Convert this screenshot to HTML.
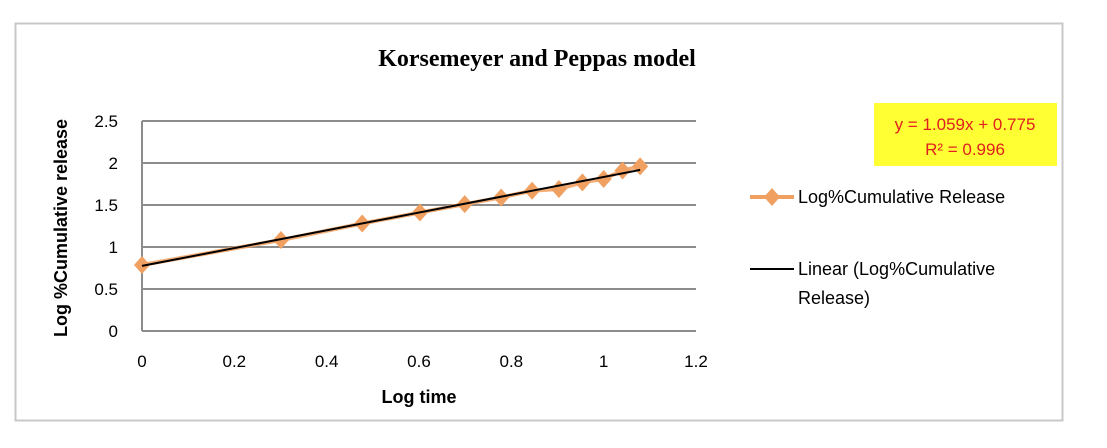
<!DOCTYPE html>
<html><head><meta charset="utf-8"><style>
html,body{margin:0;padding:0;background:#fff;}
svg{display:block;font-family:"Liberation Sans",sans-serif;}
</style></head><body>
<svg id="chart" width="1107" height="448" viewBox="0 0 1107 448">
<rect x="15.5" y="23.5" width="1047" height="397" fill="#fff" stroke="#c8c8c8" stroke-width="2"/>
<text x="537" y="66" text-anchor="middle" font-family="Liberation Serif,serif" font-weight="bold" font-size="24" fill="#000">Korsemeyer and Peppas model</text>
<g id="grid"></g>
<g id="yticks"></g>
<g id="xticks"></g>
<text transform="translate(67,228) rotate(-90)" text-anchor="middle" font-weight="bold" font-size="18" fill="#000">Log %Cumulative release</text>
<text x="419" y="403" text-anchor="middle" font-weight="bold" font-size="18" fill="#000">Log time</text>
<g id="series"></g>
<g id="trend"></g>
<g>
<rect x="874" y="103" width="183" height="63" fill="#ffff33"/>
<text x="965" y="130" text-anchor="middle" font-size="17" fill="#e02020">y = 1.059x + 0.775</text>
<text x="965" y="155" text-anchor="middle" font-size="17" fill="#e02020">R² = 0.996</text>
</g>
<g>
<g>
<line x1="750" y1="197" x2="794" y2="197" stroke="#f0a060" stroke-width="4"/>
<path d="M772 188 L780 197 L772 206 L764 197 Z" fill="#f0a060"/>
<text x="798" y="203" font-size="18" fill="#000">Log%Cumulative Release</text>
</g>
<g>
<line x1="750" y1="269" x2="794" y2="269" stroke="#000" stroke-width="2"/>
<text x="798" y="275" font-size="18" fill="#000">Linear (Log%Cumulative</text>
<text x="798" y="304" font-size="18" fill="#000">Release)</text>
</g>
</g>
</svg>
<script>
const xValues = [0, 0.301, 0.477, 0.602, 0.699, 0.778, 0.845, 0.903, 0.954, 1.0, 1.041, 1.079];
const yValues = [0.786, 1.083, 1.28, 1.41, 1.51, 1.59, 1.67, 1.69, 1.77, 1.81, 1.91, 1.96];
const yTicks = [0, 0.5, 1, 1.5, 2, 2.5];
const xTicks = [0, 0.2, 0.4, 0.6, 0.8, 1, 1.2];
const slope = 1.059;
const intercept = 0.775;
const NS = "http://www.w3.org/2000/svg";
const X0 = 142, X1 = 696, Y0 = 331, Y1 = 121;
const sx = v => X0 + (v - 0) / 1.2 * (X1 - X0);
const sy = v => Y0 - v / 2.5 * (Y0 - Y1);
function mk(tag, attrs, parent){const e=document.createElementNS(NS,tag);for(const k in attrs)e.setAttribute(k,attrs[k]);parent.appendChild(e);return e;}
const grid=document.getElementById('grid'), yt=document.getElementById('yticks'), xt=document.getElementById('xticks');
yTicks.forEach(t=>{
  const l=mk('line',{x1:X0,x2:X1,y1:sy(t),y2:sy(t),stroke:'#8c8c8c','stroke-width':2},grid);
  
  
  const tx=mk('text',{x:118,y:sy(t)+6,'text-anchor':'end','font-size':17,fill:'#000'},yt);
  tx.textContent=String(t);
  
  
});
const ax=mk('line',{x1:X0,x2:X0,y1:Y1,y2:Y0,stroke:'#8c8c8c','stroke-width':2},grid);


xTicks.forEach(t=>{
  const tx=mk('text',{x:sx(t),y:367,'text-anchor':'middle','font-size':17,fill:'#000'},xt);
  tx.textContent=String(t);
  
  
});
const s=document.getElementById('series');
const pts=xValues.map((x,i)=>sx(x)+','+sy(yValues[i])).join(' ');
const pl=mk('polyline',{points:pts,fill:'none',stroke:'#f0a060','stroke-width':4,opacity:0.85},s);


xValues.forEach((x,i)=>{
  const cx=sx(x), cy=sy(yValues[i]);
  const p=mk('path',{d:`M${cx} ${cy-9} L${cx+8} ${cy} L${cx} ${cy+9} L${cx-8} ${cy} Z`,fill:'#f0a060'},s);
  
  
});
const tr=document.getElementById('trend');
const xa=xValues[0], xb=xValues[xValues.length-1];
const tl=mk('line',{x1:sx(xa),y1:sy(slope*xa+intercept),x2:sx(xb),y2:sy(slope*xb+intercept),stroke:'#000','stroke-width':2},tr);


</script>
</body></html>
